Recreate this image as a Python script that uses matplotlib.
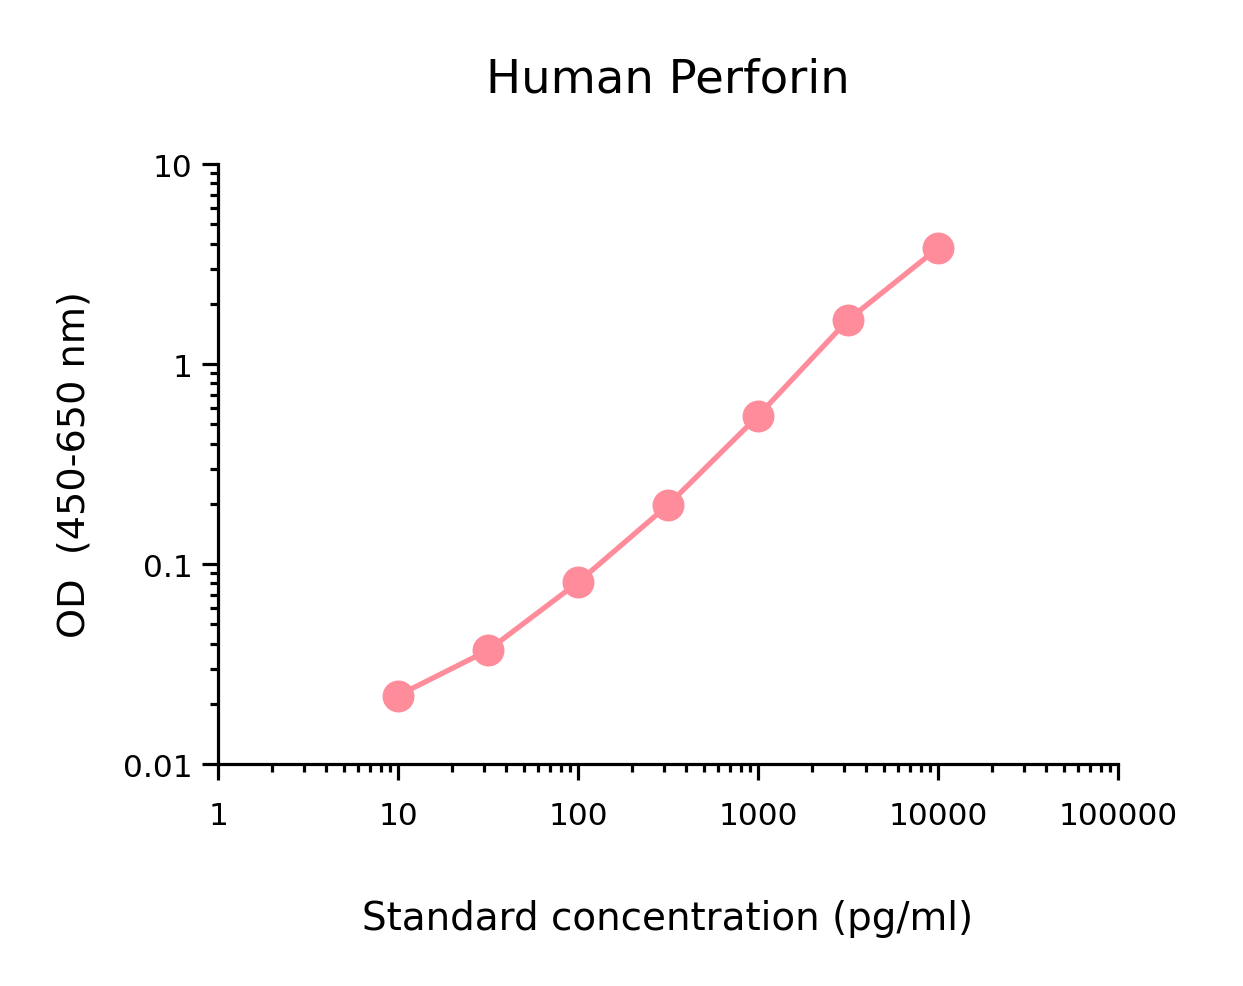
import matplotlib
matplotlib.use("Agg")
import numpy as np
from matplotlib import pyplot as plt
from matplotlib.ticker import LogLocator, FixedLocator, NullFormatter

# standard curve
conc = [10, 31.6, 100, 316, 1000, 3162, 10000]
od = [0.022, 0.037, 0.081, 0.197, 0.55, 1.66, 3.8]

x_ticks = [1, 10, 100, 1000, 10000, 100000]
x_labels = ['1', '10', '100', '1000', '10000', '100000']
y_ticks = [0.01, 0.1, 1, 10]
y_labels = ['0.01', '0.1', '1', '10']

plt.rcParams['font.family'] = ['DejaVu Sans']

fig = plt.figure(figsize=(12.43, 9.87), dpi=100)
ax = fig.add_axes([0.1754, 0.2249, 0.7240, 0.6079])

ax.plot(conc, od, color='#ff8c9b', lw=3.8, marker='o', ms=23,
        markeredgewidth=0, solid_capstyle='round', clip_on=False)

ax.set_xscale('log')
ax.set_yscale('log')
ax.set_xlim(1, 100000)
ax.set_ylim(0.01, 10)

ax.xaxis.set_major_locator(FixedLocator(x_ticks))
ax.set_xticklabels(x_labels)
ax.yaxis.set_major_locator(FixedLocator(y_ticks))
ax.set_yticklabels(y_labels)
ax.xaxis.set_minor_locator(LogLocator(base=10, subs=np.arange(2, 10)))
ax.yaxis.set_minor_locator(LogLocator(base=10, subs=np.arange(2, 10)))
ax.xaxis.set_minor_formatter(NullFormatter())
ax.yaxis.set_minor_formatter(NullFormatter())

for s in ['top', 'right']:
    ax.spines[s].set_visible(False)
for s in ['left', 'bottom']:
    ax.spines[s].set_linewidth(2.3)

ax.tick_params(which='major', length=11.5, width=2.3, labelsize=22.5)
ax.tick_params(which='minor', length=5.8, width=2.3)
ax.tick_params(axis='x', which='major', pad=15)
ax.tick_params(axis='y', which='major', pad=7)

ax.set_title('Human Perforin', fontsize=33.5, pad=52)
ax.set_xlabel('Standard concentration (pg/ml)', fontsize=28, labelpad=50)
ax.set_ylabel('OD  (450-650 nm)', fontsize=27.5, labelpad=22)

fig.savefig('out.png', dpi=100)
